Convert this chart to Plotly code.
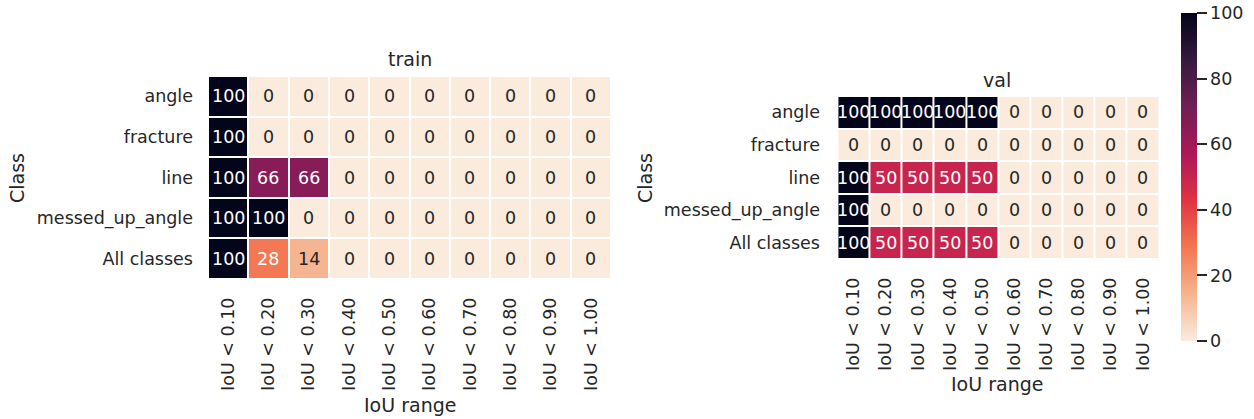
import plotly.graph_objects as go
from plotly.colors import sample_colorscale

classes = ["angle", "fracture", "line", "messed_up_angle", "All classes"]
iou_bins = ["IoU < 0.10", "IoU < 0.20", "IoU < 0.30", "IoU < 0.40", "IoU < 0.50",
            "IoU < 0.60", "IoU < 0.70", "IoU < 0.80", "IoU < 0.90", "IoU < 1.00"]

train_values = [
    [100, 0, 0, 0, 0, 0, 0, 0, 0, 0],
    [100, 0, 0, 0, 0, 0, 0, 0, 0, 0],
    [100, 66, 66, 0, 0, 0, 0, 0, 0, 0],
    [100, 100, 0, 0, 0, 0, 0, 0, 0, 0],
    [100, 28, 14, 0, 0, 0, 0, 0, 0, 0],
]
val_values = [
    [100, 100, 100, 100, 100, 0, 0, 0, 0, 0],
    [0, 0, 0, 0, 0, 0, 0, 0, 0, 0],
    [100, 50, 50, 50, 50, 0, 0, 0, 0, 0],
    [100, 0, 0, 0, 0, 0, 0, 0, 0, 0],
    [100, 50, 50, 50, 50, 0, 0, 0, 0, 0],
]

# rocket_r colormap approximation
rocket_r = [
    [0.0, "#faebdd"],
    [1 / 7, "#f6b48f"],
    [2 / 7, "#f37651"],
    [3 / 7, "#e13342"],
    [4 / 7, "#ad1759"],
    [5 / 7, "#701f57"],
    [6 / 7, "#35193e"],
    [1.0, "#03051a"],
]

FONT = "DejaVu Sans"
DARK = "#262626"
TICK = 17.5
LABEL = 19


def text_color(v):
    c = sample_colorscale(rocket_r, [v / 100.0])[0]
    rgb = [float(x) / 255 for x in c[c.index("(") + 1:c.index(")")].split(",")]
    lin = [x / 12.92 if x <= 0.03928 else ((x + 0.055) / 1.055) ** 2.4 for x in rgb]
    lum = 0.2126 * lin[0] + 0.7152 * lin[1] + 0.0722 * lin[2]
    return DARK if lum > 0.408 else "white"


fig = go.Figure()
fig.add_trace(go.Heatmap(z=train_values, x=iou_bins, y=classes, coloraxis="coloraxis",
                         xgap=2, ygap=2, xaxis="x", yaxis="y", hoverinfo="skip"))
fig.add_trace(go.Heatmap(z=val_values, x=iou_bins, y=classes, coloraxis="coloraxis",
                         xgap=2, ygap=2, xaxis="x2", yaxis="y2", hoverinfo="skip"))

annotations = []
for values, xr, yr in [(train_values, "x", "y"), (val_values, "x2", "y2")]:
    for i, cls in enumerate(classes):
        for j, b in enumerate(iou_bins):
            v = values[i][j]
            annotations.append(dict(x=b, y=cls, xref=xr, yref=yr, text=str(v), showarrow=False,
                                    font=dict(family=FONT, size=TICK, color=text_color(v))))

W, H = 1254, 419


def px(x):
    return x / W


def py(y):
    return 1 - y / H


titles = [
    ("train", 409.5, 59, 0),
    ("val", 997, 80, 0),
    ("Class", 17, 178, -90),
    ("Class", 645, 178, -90),
    ("IoU range", 410, 405, 0),
    ("IoU range", 997, 384, 0),
]
for t, x, y, ang in titles:
    annotations.append(dict(x=px(x), y=py(y), xref="paper", yref="paper", text=t, showarrow=False,
                            textangle=ang, xanchor="center", yanchor="middle",
                            font=dict(family=FONT, size=LABEL, color=DARK)))

axis_common = dict(showgrid=False, zeroline=False, showline=False, ticks="",
                   tickfont=dict(family=FONT, size=TICK, color=DARK))

fig.update_layout(
    width=W, height=H,
    margin=dict(l=0, r=0, t=0, b=0),
    paper_bgcolor="white", plot_bgcolor="white",
    font=dict(family=FONT, color=DARK),
    xaxis=dict(domain=[px(208), px(611)], anchor="y", tickangle=-90, ticklabelstandoff=14, **axis_common),
    yaxis=dict(domain=[py(279), py(76)], anchor="x", autorange="reversed", ticklabelstandoff=14, **axis_common),
    xaxis2=dict(domain=[px(835), px(1159)], anchor="y2", tickangle=-90, ticklabelstandoff=14, **axis_common),
    yaxis2=dict(domain=[py(259), py(96)], anchor="x2", autorange="reversed", ticklabelstandoff=14, **axis_common),
    coloraxis=dict(
        colorscale=rocket_r, cmin=0, cmax=100,
        colorbar=dict(
            x=px(1181), xanchor="left", y=py(341), yanchor="bottom",
            len=(341 - 13) / H, lenmode="fraction", thickness=16, thicknessmode="pixels",
            xpad=0, ypad=0, outlinewidth=0,
            ticks="outside", ticklen=10, tickwidth=1.7, tickcolor=DARK,
            tickvals=[0, 20, 40, 60, 80, 100], tickprefix="\u00a0\u00a0",
            tickfont=dict(family=FONT, size=TICK, color=DARK),
        ),
    ),
    annotations=annotations,
    showlegend=False,
)

# remove the browser's default page margin so the figure fills the window exactly
fig.write_html("out.html", config={"displayModeBar": False},
               post_script="document.body.style.margin='0';")
